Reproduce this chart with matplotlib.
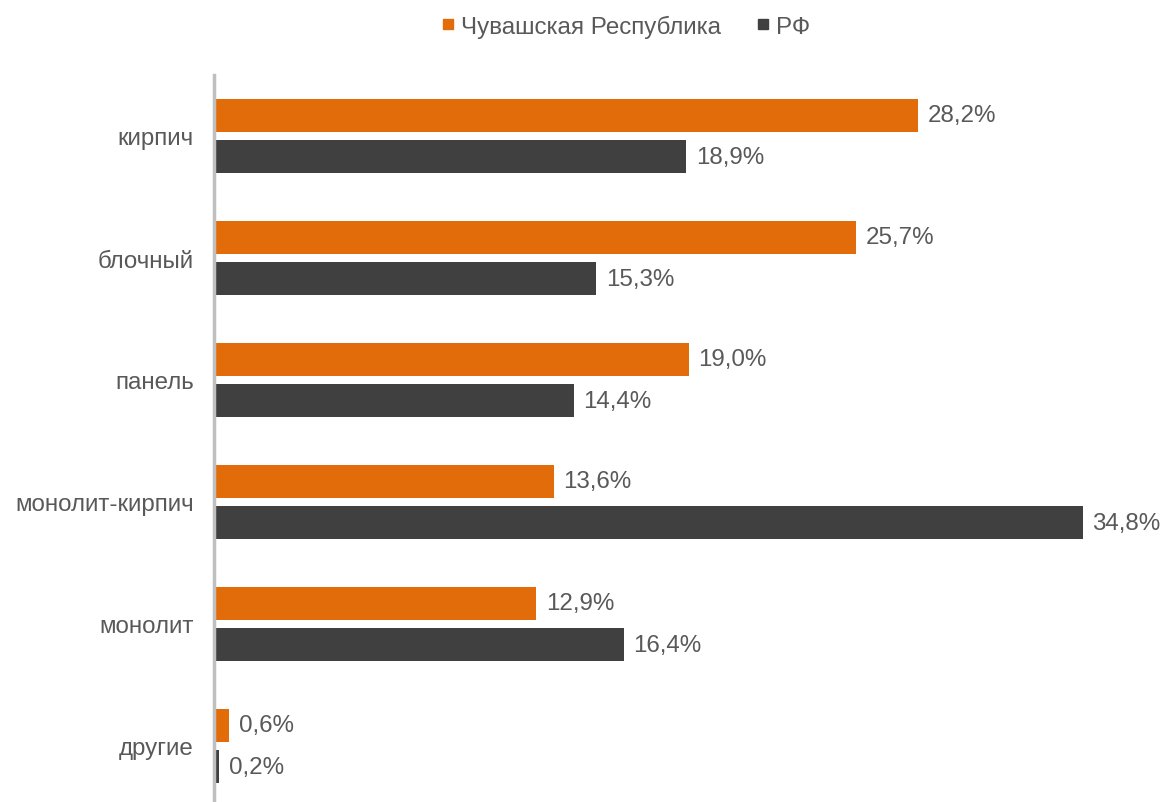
import matplotlib
matplotlib.use("Agg")
import matplotlib.pyplot as plt
from matplotlib.lines import Line2D
import numpy as np

categories = ["кирпич", "блочный", "панель", "монолит-кирпич", "монолит", "другие"]
chuvashia = [28.2, 25.7, 19.0, 13.6, 12.9, 0.6]
rf = [18.9, 15.3, 14.4, 34.8, 16.4, 0.2]
series_names = ["Чувашская Республика", "РФ"]

ORANGE = "#E36C0A"
DARK = "#404040"
TEXT = "#595959"
FS = 17.4

plt.rcParams['font.family'] = ['Liberation Sans', 'DejaVu Sans']

W, H = 1166, 803
fig = plt.figure(figsize=(W / 100, H / 100), dpi=100)
left_px, top_px, bottom_px = 214.5, 76, 808
ax = fig.add_axes([left_px / W, (H - bottom_px) / H, 1 - left_px / W, (bottom_px - top_px) / H])

y = np.arange(len(categories))
bh = 0.272
off = 0.169
ax.barh(y - off, chuvashia, height=bh, color=ORANGE, label=series_names[0])
ax.barh(y + off, rf, height=bh, color=DARK, label=series_names[1])

for yi, v in zip(y, chuvashia):
    ax.annotate(f"{v:.1f}%".replace(".", ","), (v, yi - off), xytext=(7, 0),
                textcoords="offset points", va="center", ha="left", fontsize=FS, color=TEXT)
for yi, v in zip(y, rf):
    ax.annotate(f"{v:.1f}%".replace(".", ","), (v, yi + off), xytext=(7, 0),
                textcoords="offset points", va="center", ha="left", fontsize=FS, color=TEXT)

ax.set_ylim(len(categories) - 0.5, -0.5)
ax.set_xlim(0, (W - left_px) / 24.95)
ax.set_yticks(y)
ax.set_yticklabels(categories, fontsize=FS, color=TEXT)
ax.tick_params(axis='y', length=0, pad=15)
ax.set_xticks([])
for s in ["top", "right", "bottom"]:
    ax.spines[s].set_visible(False)
ax.spines["left"].set_color("#BFBFBF")
ax.spines["left"].set_linewidth(2.5)

handles = [Line2D([], [], marker='s', linestyle='none', markersize=7.5, color=ORANGE),
           Line2D([], [], marker='s', linestyle='none', markersize=7.5, color=DARK)]
fig.legend(handles, series_names, loc="center", bbox_to_anchor=(626 / W, 1 - 27 / H),
           ncol=2, frameon=False, fontsize=FS, labelcolor=TEXT,
           handlelength=0.5, handletextpad=0.3, columnspacing=1.5)

fig.savefig("out.png", dpi=100)
